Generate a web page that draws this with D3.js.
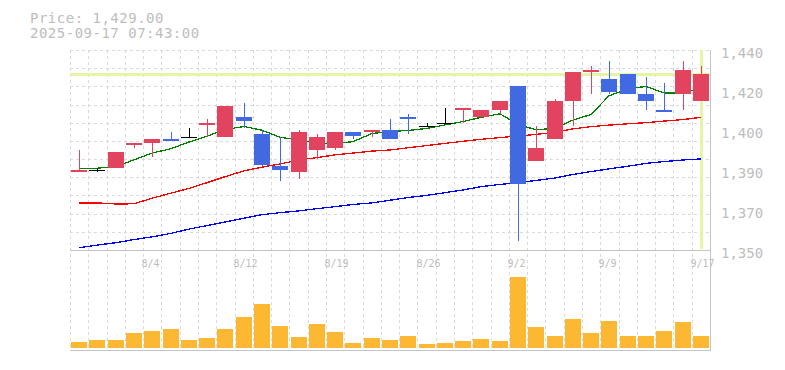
<!DOCTYPE html>
<meta charset="utf-8">
<style>
  body { margin: 0; background: #fff; }
  text { font-family: "DejaVu Sans Mono", monospace; fill: #bdbdbd; }
</style>
<svg width="785" height="370"></svg>
<script src="https://d3js.org/d3.v7.min.js"></script>
<script>
var dates = ["7/29","7/30","7/31","8/1","8/4","8/5","8/6","8/7","8/8","8/12","8/13","8/14","8/15","8/18","8/19","8/20","8/21","8/22","8/25","8/26","8/27","8/28","8/29","9/1","9/2","9/3","9/4","9/5","9/8","9/9","9/10","9/11","9/12","9/16","9/17"];
var labelDates = ["8/4","8/12","8/19","8/26","9/2","9/9","9/17"];
var open  = [1385,1386,1387,1397,1398,1400,1401,1406,1401,1410,1402,1388,1385,1395,1396,1403,1403,1404,1410,1406,1407,1413,1410,1413,1424,1390,1400,1417,1430,1427,1429,1420,1413,1420,1417];
var high  = [1395,1387,1394,1398,1400,1403,1405,1409,1415,1416,1404,1401,1404,1402,1403,1403,1404,1409,1411,1407,1414,1414,1413,1417,1424,1406,1418,1430,1433,1435,1429,1428,1425,1435,1433];
var low   = [1385,1385,1387,1396,1392,1399,1401,1401,1401,1405,1388,1381,1382,1391,1395,1400,1401,1400,1402,1406,1407,1407,1410,1411,1354,1390,1400,1406,1420,1420,1420,1413,1412,1413,1417];
var close = [1386,1386,1394,1398,1400,1399,1401,1407,1415,1408,1388,1386,1403,1401,1403,1401,1404,1400,1409,1406,1407,1414,1413,1417,1380,1396,1417,1430,1431,1421,1420,1417,1412,1431,1429];
var volume = [28,38,38,73,83,93,38,48,93,153,218,108,53,118,78,23,48,38,58,18,23,33,43,33,353,103,58,143,73,133,58,58,83,128,58];
var ma5  = [1386.8,1386.8,1387.5,1390.6,1393.6,1395.6,1398.6,1401.2,1404.2,1405.6,1403.9,1400.7,1399.5,1398.2,1397.8,1398.8,1402.4,1403.3,1403.8,1404.7,1406.3,1407.8,1409.7,1411.3,1406.5,1404.1,1404.8,1408.5,1411,1419.4,1422.6,1423.6,1420.7,1420.7,1422.7];
var ma25 = [1371.2,1371.2,1370.7,1370.8,1373.3,1375.6,1377.7,1380.3,1383,1385.6,1387.3,1388.7,1390.5,1391.6,1392.8,1393.6,1394.5,1395,1396,1397,1398,1398.9,1399.8,1400.6,1401.3,1402,1403,1404.5,1405.5,1406.2,1406.8,1407.3,1408,1408.7,1409.7];
var ma75 = [1351,1352.2,1353.3,1354.7,1355.9,1357.5,1359.4,1361,1362.6,1364.3,1365.9,1366.8,1367.6,1368.6,1369.5,1370.5,1371.2,1372.4,1373.6,1374.6,1375.8,1377,1378.5,1379.5,1380.3,1381.3,1382.4,1384,1385.3,1386.5,1387.7,1389,1389.8,1390.5,1391];
var priceTicks = [1440,1422,1404,1386,1368,1350];
var lastPrice = 1429;

var svg = d3.select("svg");
var pLeft = 70, pRight = 710, pTop = 50, pMid = 250, pBottom = 350;

var x = d3.scaleBand().domain(d3.range(dates.length)).range([pLeft, pRight]);
var cx = function(i) { return Math.round(x(i) + x.bandwidth() / 2); };
var y = d3.scaleLinear().domain([1350, 1440]).range([pMid, pTop]);
var yv = d3.scaleLinear().domain([0, 500]).range([348, 248]);

// grid
var grid = svg.append("g").attr("stroke", "#dadada").attr("stroke-dasharray", "3,3")
  .attr("shape-rendering", "crispEdges");
grid.selectAll(".gx").data(d3.range(dates.length)).enter().append("line")
  .attr("x1", function(i) { return Math.round(x(i)) + 0.5; })
  .attr("x2", function(i) { return Math.round(x(i)) + 0.5; })
  .attr("y1", pTop).attr("y2", pBottom);
grid.selectAll(".gy").data(d3.range(11)).enter().append("line")
  .attr("x1", pLeft).attr("x2", pRight)
  .attr("y1", function(j) { return Math.round(y(1440 - j * 90 / 11)) + 0.5; })
  .attr("y2", function(j) { return Math.round(y(1440 - j * 90 / 11)) + 0.5; });

// frame
var frame = svg.append("g").attr("stroke", "#c4c4c4").attr("shape-rendering", "crispEdges");
frame.append("line").attr("x1", pLeft).attr("x2", pRight + 1).attr("y1", pMid + 0.5).attr("y2", pMid + 0.5);
frame.append("line").attr("x1", pLeft).attr("x2", pRight + 1).attr("y1", pBottom + 0.5).attr("y2", pBottom + 0.5);
frame.append("line").attr("x1", pRight + 0.5).attr("x2", pRight + 0.5).attr("y1", pTop).attr("y2", pBottom);

// current price markers
svg.append("line").attr("x1", pLeft).attr("x2", pRight)
  .attr("y1", y(lastPrice)).attr("y2", y(lastPrice))
  .attr("stroke", "#e4f5a8").attr("stroke-width", 3);
svg.append("line").attr("x1", cx(dates.length - 1) + 0.5).attr("x2", cx(dates.length - 1) + 0.5)
  .attr("y1", pTop).attr("y2", pMid - 1)
  .attr("stroke", "#e4f5a8").attr("stroke-width", 3);

// volume
svg.append("g").selectAll("rect").data(volume).enter().append("rect")
  .attr("x", function(d, i) { return cx(i) - 8; })
  .attr("width", 16)
  .attr("y", function(d) { return yv(d); })
  .attr("height", function(d) { return yv(0) - yv(d); })
  .attr("fill", "#fdb833").attr("shape-rendering", "crispEdges");

// moving averages
var line = d3.line().x(function(d, i) { return cx(i); }).y(function(d) { return y(d); });
[[ma75, "#0000ff"], [ma25, "#ff0000"], [ma5, "#008000"]].forEach(function(s) {
  svg.append("path").datum(s[0]).attr("d", line)
    .attr("fill", "none").attr("stroke", s[1]).attr("stroke-width", 1.3)
    .attr("shape-rendering", "crispEdges");
});

// candles
var col = function(i) {
  return close[i] > open[i] ? "#e2445f" : close[i] < open[i] ? "#4169e1" : "#000";
};
var candles = svg.append("g").attr("shape-rendering", "crispEdges");
candles.selectAll("line").data(dates).enter().append("line")
  .attr("x1", function(d, i) { return cx(i) + 0.5; })
  .attr("x2", function(d, i) { return cx(i) + 0.5; })
  .attr("y1", function(d, i) { return y(high[i]); })
  .attr("y2", function(d, i) { return y(low[i]); })
  .attr("stroke", function(d, i) { return col(i); });
candles.selectAll("rect").data(dates).enter().append("rect")
  .attr("x", function(d, i) { return cx(i) - 8; })
  .attr("width", 16)
  .attr("y", function(d, i) { return Math.round(y(Math.max(open[i], close[i]))); })
  .attr("height", function(d, i) { return Math.max(1, Math.round(Math.abs(y(open[i]) - y(close[i])))); })
  .attr("fill", function(d, i) { return col(i); });

// y labels
svg.append("g").selectAll("text").data(priceTicks).enter().append("text")
  .attr("x", 721).attr("y", function(d) { return y(d) + 7.5; })
  .style("font-size", "14px")
  .text(function(d) { return d3.format(",")(Math.round(d / 10) * 10); });

// x labels
svg.append("g").selectAll("text").data(labelDates).enter().append("text")
  .attr("x", function(d) { return cx(dates.indexOf(d)) - 10.5; })
  .attr("y", 267)
  .style("font-size", "10px")
  .text(function(d) { return d; });

// header
var header = svg.append("g").style("font-size", "14px").style("letter-spacing", "0.5px");
header.append("text").attr("x", 30).attr("y", 22.5).text("Price: 1,429.00");
header.append("text").attr("x", 30).attr("y", 37.5).text("2025-09-17 07:43:00");
</script>
